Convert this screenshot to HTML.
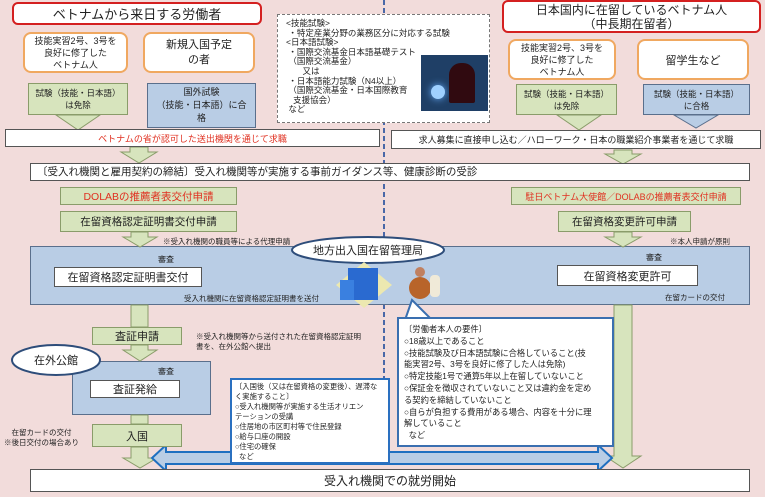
<!DOCTYPE html>
<html><head><meta charset="utf-8"><style>
*{margin:0;padding:0;box-sizing:border-box}
body{width:768px;height:499px;background:#fff;position:relative;overflow:hidden;font-family:"Liberation Sans","Noto Sans CJK JP",sans-serif;color:#222}
.a{position:absolute}
.c{display:flex;align-items:center;justify-content:center;text-align:center}
.w{background:#fff;border:1px solid #555}
.g{background:#d7e4bd;border:1px solid #8a9c6a}
.b{background:#b9cde5;border:1px solid #5a6f8c}
.o{background:#fff;border:2px solid #f0a860;border-radius:8px}
.r{background:#fff;border:2px solid #d42020;border-radius:6px}
.red{color:#e03020}
.s{font-size:8px;white-space:nowrap}
</style></head><body>
<div class="a" style="left:0;top:0;width:765px;height:497px;background:#f2dcdb"></div>
<svg class="a" style="left:0;top:0" width="768" height="499">
<line x1="384" y1="0" x2="384" y2="380" stroke="#4a68a8" stroke-width="2" stroke-dasharray="5,3"/>
</svg>
<div class="a b" style="left:30px;top:246px;width:720px;height:59px"></div>
<div class="a b" style="left:72px;top:361px;width:139px;height:54px"></div>
<svg class="a" style="left:0;top:0" width="768" height="499">
<g fill="#d7e4bd" stroke="#8a9c6a" stroke-width="1">
<polygon points="68,115 88,115 88,115 100,115 78,130 56,115 68,115"/>
<polygon points="569,115 589,115 601,115 579,130 557,115"/>
<polygon points="130,147 148,147 148,152 157,152 139,163 121,152 130,152"/>
<polygon points="614,150 632,150 632,154 641,154 623,164 605,154 614,154"/>
<polygon points="131,232 148,232 148,237 157,237 140,247 123,237 131,237"/>
<polygon points="614,232 632,232 632,237 641,237 623,247 605,237 614,237"/>
<polygon points="131,305 148,305 148,327 131,327"/>
<polygon points="131,345 148,345 148,350 157,350 140,361 123,350 131,350"/>
<polygon points="131,447 148,447 148,458 157,458 140,468 123,458 131,458"/>
<polygon points="614,305 632,305 632,456 641,456 623,468 605,456 614,456"/>
<rect x="131" y="415" width="17" height="9"/>
</g>
<polygon points="674,115 718,115 696,128" fill="#b9cde5" stroke="#5a6f8c"/>
<polygon points="152,458 166,445 166,452 598,452 598,445 612,458 598,471 598,464 166,464 166,471" fill="#b9cde5" stroke="#1f6fc0" stroke-width="2"/>
<polygon points="405,320 412,300 432,320" fill="#fff" stroke="#3a6fb0" stroke-width="2"/>
<ellipse cx="368" cy="250" rx="76" ry="13" fill="#fff" stroke="#2e4d7a" stroke-width="2"/>
<ellipse cx="56" cy="360" rx="44" ry="15" fill="#fff" stroke="#2e4d7a" stroke-width="2"/>
<polygon points="364,262 392,285 364,308 336,285" fill="#ece8b0"/>
<rect x="348" y="268" width="30" height="32" fill="#2a6ad0"/>
<rect x="340" y="280" width="14" height="20" fill="#3a80e0"/>
<circle cx="420" cy="288" r="11" fill="#b8642a"/>
<circle cx="420" cy="272" r="5" fill="#c08060"/>
<rect x="430" y="275" width="10" height="22" rx="4" fill="#f0ead8"/>
</svg>
<div class="a r c" style="left:12px;top:2px;width:250px;height:23px;font-size:13px">ベトナムから来日する労働者</div>
<div class="a r c" style="left:502px;top:0;width:259px;height:33px;font-size:12px;line-height:14px">日本国内に在留しているベトナム人<br>（中長期在留者）</div>
<div class="a o c" style="left:23px;top:32px;width:105px;height:41px;font-size:9px;line-height:12px">技能実習2号、3号を<br>良好に修了した<br>ベトナム人</div>
<div class="a o c" style="left:143px;top:32px;width:112px;height:41px;font-size:11px;line-height:15px">新規入国予定<br>の者</div>
<div class="a o c" style="left:508px;top:39px;width:108px;height:41px;font-size:9px;line-height:12px">技能実習2号、3号を<br>良好に修了した<br>ベトナム人</div>
<div class="a o c" style="left:637px;top:39px;width:112px;height:41px;font-size:11px">留学生など</div>
<div class="a g c" style="left:28px;top:83px;width:100px;height:32px;font-size:8.5px;line-height:12px;white-space:nowrap">試験（技能・日本語）<br>は免除</div>
<div class="a b c" style="left:147px;top:83px;width:109px;height:45px;font-size:9px;line-height:13px">国外試験<br>（技能・日本語）に合<br>格</div>
<div class="a g c" style="left:516px;top:84px;width:101px;height:31px;font-size:8.5px;line-height:12px;white-space:nowrap">試験（技能・日本語）<br>は免除</div>
<div class="a b c" style="left:643px;top:84px;width:107px;height:31px;font-size:8.5px;line-height:12px;white-space:nowrap">試験（技能・日本語）<br>に合格</div>
<div class="a" style="left:277px;top:14px;width:213px;height:109px;background:#fff;border:1.5px dashed #777;font-size:8.5px;line-height:9.6px;padding:4px 0 0 8px;white-space:nowrap">&lt;技能試験&gt;<br>&nbsp;・特定産業分野の業務区分に対応する試験<br>&lt;日本語試験&gt;<br>&nbsp;・国際交流基金日本語基礎テスト<br>&nbsp;（国際交流基金）<br>&nbsp;&nbsp;&nbsp;&nbsp;&nbsp;&nbsp;&nbsp;又は<br>&nbsp;・日本語能力試験（N4以上）<br>&nbsp;（国際交流基金・日本国際教育<br>&nbsp;&nbsp;&nbsp;支援協会）<br>&nbsp;など</div>
<div class="a" style="left:421px;top:55px;width:67px;height:56px;background:#1f3f66"><div class="a" style="left:10px;top:30px;width:14px;height:14px;border-radius:50%;background:#9fd0ff;box-shadow:0 0 8px #6ab0ff"></div><div class="a" style="left:28px;top:8px;width:26px;height:40px;border-radius:12px 12px 2px 2px;background:#300a10"></div></div>
<div class="a w c red" style="left:5px;top:129px;width:375px;height:18px;font-size:9px">ベトナムの省が認可した送出機関を通じて求職</div>
<div class="a w c" style="left:391px;top:130px;width:370px;height:19px;font-size:9px">求人募集に直接申し込む／ハローワーク・日本の職業紹介事業者を通じて求職</div>
<div class="a w" style="left:30px;top:163px;width:720px;height:18px;font-size:10.5px;line-height:16px;padding-left:6px">〔受入れ機関と雇用契約の締結〕受入れ機関等が実施する事前ガイダンス等、健康診断の受診</div>
<div class="a g c red" style="left:60px;top:187px;width:177px;height:18px;font-size:10.5px">DOLABの推薦者表交付申請</div>
<div class="a g c red" style="left:511px;top:187px;width:230px;height:18px;font-size:9px">駐日ベトナム大使館／DOLABの推薦者表交付申請</div>
<div class="a g c" style="left:60px;top:211px;width:177px;height:21px;font-size:10.5px">在留資格認定証明書交付申請</div>
<div class="a g c" style="left:558px;top:211px;width:133px;height:21px;font-size:10.5px">在留資格変更許可申請</div>
<div class="a s" style="left:163px;top:236px;font-size:7.5px">※受入れ機関の職員等による代理申請</div>
<div class="a s" style="left:670px;top:236px;font-size:7.5px">※本人申請が原則</div>
<div class="a c" style="left:292px;top:240px;width:152px;height:20px;font-size:11px">地方出入国在留管理局</div>
<div class="a s" style="left:158px;top:254px">審査</div>
<div class="a s" style="left:646px;top:252px">審査</div>
<div class="a w c" style="left:54px;top:267px;width:148px;height:20px;font-size:11px">在留資格認定証明書交付</div>
<div class="a w c" style="left:557px;top:265px;width:141px;height:21px;font-size:11px">在留資格変更許可</div>
<div class="a s" style="left:184px;top:293px;font-size:7.5px">受入れ機関に在留資格認定証明書を送付</div>
<div class="a s" style="left:665px;top:292px;font-size:7.5px">在留カードの交付</div>
<div class="a g c" style="left:92px;top:327px;width:90px;height:18px;font-size:11px">査証申請</div>
<div class="a s" style="left:196px;top:332px;font-size:7.5px;line-height:10px">※受入れ機関等から送付された在留資格認定証明<br>書を、在外公館へ提出</div>
<div class="a c" style="left:12px;top:350px;width:88px;height:20px;font-size:11px">在外公館</div>
<div class="a s" style="left:158px;top:366px">審査</div>
<div class="a w c" style="left:90px;top:380px;width:90px;height:18px;font-size:11px">査証発給</div>
<div class="a g c" style="left:92px;top:424px;width:90px;height:23px;font-size:11px">入国</div>
<div class="a s" style="left:4px;top:428px;font-size:7.5px;line-height:10px;text-align:center">在留カードの交付<br>※後日交付の場合あり</div>
<div class="a" style="left:230px;top:378px;width:160px;height:86px;background:#fff;border:2px solid #2a70c0;font-size:7.3px;line-height:10px;padding:2px 0 0 3px;white-space:nowrap;overflow:hidden">〔入国後（又は在留資格の変更後）、遅滞な<br>く実施すること〕<br>○受入れ機関等が実施する生活オリエン<br>テーションの受講<br>○住居地の市区町村等で住民登録<br>○給与口座の開設<br>○住宅の確保<br>&nbsp;&nbsp;など</div>
<div class="a" style="left:397px;top:317px;width:217px;height:130px;background:#fff;border:2px solid #3a6fb0;font-size:8.3px;line-height:11.8px;padding:5px 0 0 5px;white-space:nowrap;overflow:hidden">〔労働者本人の要件〕<br>○18歳以上であること<br>○技能試験及び日本語試験に合格していること(技<br>能実習2号、3号を良好に修了した人は免除)<br>○特定技能1号で通算5年以上在留していないこと<br>○保証金を徴収されていないこと又は違約金を定め<br>る契約を締結していないこと<br>○自らが負担する費用がある場合、内容を十分に理<br>解していること<br>&nbsp;&nbsp;など</div>
<div class="a w c" style="left:30px;top:469px;width:720px;height:23px;font-size:12px">受入れ機関での就労開始</div>
</body></html>
